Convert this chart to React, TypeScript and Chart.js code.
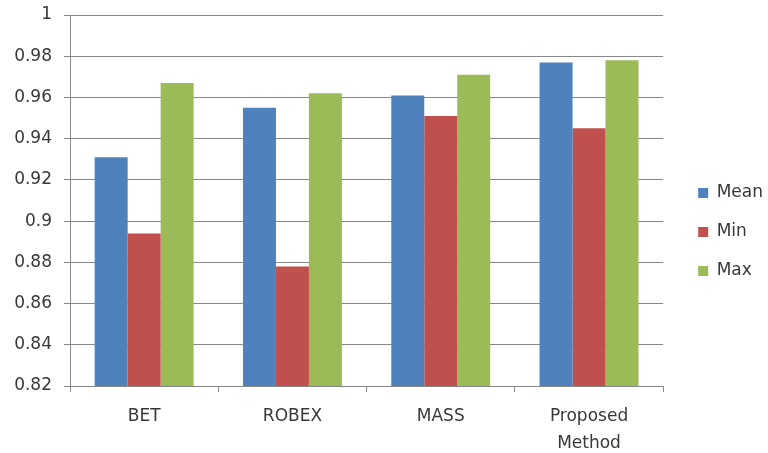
import React, { useEffect, useRef } from "react";
import { Chart, registerables } from "chart.js";

Chart.register(...registerables);

// Categories and measured values
const categories: (string | string[])[] = ["BET", "ROBEX", "MASS", ["Proposed", "Method"]];
const meanValues = [0.931, 0.955, 0.961, 0.977];
const minValues = [0.894, 0.878, 0.951, 0.945];
const maxValues = [0.967, 0.962, 0.971, 0.978];
const seriesNames = ["Mean", "Min", "Max"];

const yMin = 0.82;
const yMax = 1;
const yStep = 0.02;

const FONT = "'DejaVu Sans', Verdana, sans-serif";
const TEXT = "#383838";
const GRID = "#888888";

// Nudges the right-hand legend a little away from the plot area
const legendNudge = {
  id: "legendNudge",
  afterLayout(chart: any) {
    const lg = chart.legend;
    if (!lg) return;
    const dx = 13;
    const dy = -2;
    lg.left += dx;
    lg.right += dx;
    lg.top += dy;
    lg.bottom += dy;
  },
};

export default function App() {
  const canvasRef = useRef<HTMLCanvasElement | null>(null);

  useEffect(() => {
    if (!canvasRef.current) return;
    const chart = new Chart(canvasRef.current, {
      type: "bar",
      data: {
        labels: categories,
        datasets: [
          { label: seriesNames[0], data: meanValues, backgroundColor: "#4f81bd" },
          { label: seriesNames[1], data: minValues, backgroundColor: "#c0504d" },
          { label: seriesNames[2], data: maxValues, backgroundColor: "#9bbb59" },
        ],
      },
      options: {
        animation: false,
        responsive: true,
        maintainAspectRatio: false,
        layout: { padding: { top: 15, right: 8, bottom: 0, left: 0 } },
        datasets: {
          bar: { categoryPercentage: 0.667, barPercentage: 1.0, borderWidth: 0 },
        },
        plugins: {
          tooltip: { enabled: false },
          legend: {
            position: "right",
            align: "center",
            labels: {
              boxWidth: 10,
              boxHeight: 10,
              padding: 22,
              color: TEXT,
              font: { family: FONT, size: 17 },
            },
          },
        },
        scales: {
          x: {
            offset: true,
            grid: {
              offset: true,
              drawOnChartArea: false,
              drawTicks: true,
              tickLength: 6,
              color: GRID,
            },
            border: { display: true, color: GRID, width: 1 },
            ticks: {
              color: TEXT,
              padding: 11,
              maxRotation: 0,
              font: { family: FONT, size: 17, lineHeight: 1.58 },
            },
            afterFit(scale: any) {
              scale.height = 67;
            },
          },
          y: {
            min: yMin,
            max: yMax,
            grid: { color: GRID, tickLength: 6, drawTicks: true },
            border: { display: true, color: GRID, width: 1 },
            ticks: {
              stepSize: yStep,
              color: TEXT,
              padding: 12,
              font: { family: FONT, size: 17 },
              callback: (v: any) => String(Number(Number(v).toFixed(2))),
            },
            afterFit(scale: any) {
              scale.width = 70;
              scale.paddingTop = 0;
            },
          },
        },
      },
      plugins: [legendNudge],
    });
    return () => chart.destroy();
  }, []);

  return (
    <div
      style={{
        position: "fixed",
        left: 0,
        top: 0,
        width: 768,
        height: 453,
        background: "#ffffff",
      }}
    >
      <canvas ref={canvasRef} />
    </div>
  );
}
